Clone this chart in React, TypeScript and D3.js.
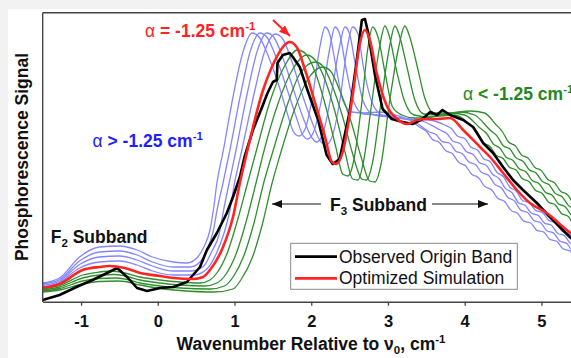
import React, { useEffect, useRef } from "react";
import * as d3 from "d3";

type Pt = [number, number];

// x: wavenumber relative to nu0 (cm-1); y: phosphorescence signal (arb. units)
const X_TICKS = [-1, 0, 1, 2, 3, 4, 5];

const OBSERVED: Pt[] = [
  [-1.5, 2], [-1.28, 7], [-1.06, 15], [-0.85, 22], [-0.66, 29], [-0.53, 34], [-0.4, 25], [-0.27, 14],
  [-0.14, 11], [0.03, 14], [0.2, 15], [0.38, 20], [0.55, 35], [0.64, 52], [0.77, 69], [0.9, 89],
  [0.98, 105], [1.07, 125], [1.13, 145], [1.24, 172], [1.36, 195], [1.43, 209], [1.5, 220], [1.55, 222],
  [1.56, 239], [1.63, 247], [1.72, 249], [1.76, 245], [1.85, 235], [1.95, 212], [2.09, 182], [2.2, 147],
  [2.28, 138], [2.37, 143], [2.5, 190], [2.59, 240], [2.66, 282], [2.7, 283], [2.74, 270], [2.83, 227],
  [2.93, 193], [3.05, 183], [3.19, 180], [3.32, 178], [3.45, 183], [3.55, 190], [3.64, 187], [3.71, 192],
  [3.81, 187], [3.98, 182], [4.11, 175], [4.24, 159], [4.37, 149], [4.5, 135], [4.63, 122], [4.76, 112],
  [4.94, 99], [5.11, 85], [5.37, 65], [5.5, 56],
];

const OPTIMIZED: Pt[] = [
  [-1.5, 14], [-1.28, 18], [-0.98, 32], [-0.76, 35], [-0.63, 36], [-0.43, 34], [-0.23, 29], [0.03, 26],
  [0.2, 24], [0.46, 23], [0.59, 25], [0.68, 32], [0.85, 55], [0.98, 85], [1.07, 119], [1.16, 149],
  [1.36, 209], [1.53, 242], [1.63, 255], [1.72, 260], [1.81, 255], [1.92, 232], [2.05, 199], [2.18, 165],
  [2.27, 140], [2.33, 138], [2.41, 150], [2.54, 207], [2.63, 257], [2.7, 272], [2.76, 263], [2.85, 230],
  [2.98, 197], [3.12, 183], [3.25, 178], [3.38, 182], [3.51, 183], [3.64, 183], [3.81, 184], [3.98, 172],
  [4.2, 155], [4.33, 145], [4.5, 129], [4.68, 112], [4.85, 99], [5.07, 89], [5.33, 72], [5.5, 62],
];

// simulations with alpha > -1.25 cm-1
const SIM_ABOVE_1: Pt[] = [
  [-1.5, 15], [-1.28, 19.5], [-1.02, 34], [-0.76, 40], [-0.5, 41], [-0.27, 37], [-0.07, 31], [0.2, 27],
  [0.47, 27], [0.64, 33], [0.76, 48], [0.86, 68], [0.94, 92], [1.0, 119], [1.09, 150], [1.26, 210],
  [1.39, 250], [1.53, 268], [1.62, 264], [1.75, 240], [1.88, 208], [2.01, 180], [2.11, 162], [2.19, 157],
  [2.27, 165], [2.37, 200], [2.46, 250], [2.54, 275], [2.61, 268], [2.68, 235], [2.79, 200], [2.92, 187],
  [3.09, 184], [3.28, 183], [3.54, 182], [3.74, 177], [3.83, 173.3], [3.91, 165.7], [4.0, 163.5],
  [4.08, 154.9], [4.17, 151.7], [4.25, 143.1], [4.33, 140.5], [4.42, 129.7], [4.5, 125.7], [4.59, 114.8],
  [4.67, 110.9], [4.76, 101.2], [4.84, 99.5], [4.93, 91.3], [5.01, 89.7], [5.1, 81.4], [5.18, 79.5],
  [5.27, 70.7], [5.35, 68.4], [5.44, 60.5], [5.5, 59],
];
const SIM_ABOVE_2: Pt[] = [
  [-1.5, 16.5], [-1.28, 21], [-1.02, 37.5], [-0.76, 45], [-0.5, 46], [-0.27, 42], [-0.07, 36], [0.2, 31],
  [0.44, 31], [0.6, 36], [0.7, 50], [0.8, 68], [0.86, 93], [0.93, 119], [1.02, 152], [1.17, 210],
  [1.3, 252], [1.42, 269], [1.51, 265], [1.64, 242], [1.77, 212], [1.9, 183], [2.01, 164], [2.07, 160],
  [2.15, 168], [2.25, 203], [2.36, 252], [2.44, 275], [2.5, 268], [2.58, 235], [2.68, 200], [2.82, 187],
  [3.02, 185], [3.28, 183], [3.48, 180], [3.68, 172], [3.77, 168.3], [3.85, 160.7], [3.94, 158.5],
  [4.02, 150.4], [4.11, 147.6], [4.19, 139.5], [4.28, 136.7], [4.36, 128], [4.45, 123.3], [4.53, 113.6],
  [4.62, 109], [4.7, 99.2], [4.79, 96.4], [4.87, 88.8], [4.96, 86.6], [5.04, 78.9], [5.13, 76.7],
  [5.21, 68.8], [5.3, 66.4], [5.38, 58.5], [5.47, 57], [5.5, 55],
];
const SIM_ABOVE_3: Pt[] = [
  [-1.5, 18], [-1.28, 22.5], [-1.02, 41], [-0.76, 50], [-0.5, 51], [-0.27, 47], [-0.07, 40], [0.2, 35],
  [0.42, 35], [0.55, 40], [0.64, 52], [0.72, 70], [0.78, 95], [0.85, 119], [0.94, 152], [1.08, 208],
  [1.21, 252], [1.33, 269], [1.42, 265], [1.55, 243], [1.68, 214], [1.8, 186], [1.89, 167], [1.95, 163],
  [2.03, 170], [2.14, 205], [2.24, 253], [2.31, 275], [2.37, 268], [2.45, 235], [2.55, 201], [2.68, 188],
  [2.89, 187], [3.15, 184], [3.35, 180], [3.54, 170], [3.63, 167.2], [3.71, 160.3], [3.8, 159],
  [3.88, 151.1], [3.97, 148.3], [4.05, 140.3], [4.14, 137.5], [4.22, 129.5], [4.31, 126.8], [4.39, 117.9],
  [4.48, 114], [4.56, 104.8], [4.65, 100.9], [4.73, 91.9], [4.82, 89.5], [4.9, 81.6], [4.99, 79.2],
  [5.07, 71.3], [5.16, 68.9], [5.24, 61], [5.33, 58.5], [5.41, 51.2], [5.5, 50.5],
];
const SIM_ABOVE_4: Pt[] = [
  [-1.5, 19], [-1.28, 24], [-1.02, 45], [-0.76, 55], [-0.5, 56], [-0.27, 52], [-0.07, 45], [0.2, 40],
  [0.38, 39], [0.52, 45], [0.6, 55], [0.68, 72], [0.73, 95], [0.77, 119], [0.85, 150], [0.98, 205],
  [1.11, 250], [1.23, 269], [1.32, 265], [1.45, 244], [1.58, 216], [1.69, 188], [1.77, 170], [1.84, 166],
  [1.92, 173], [2.02, 207], [2.11, 254], [2.18, 275], [2.24, 268], [2.32, 236], [2.41, 202], [2.53, 190],
  [2.7, 189], [2.89, 190], [3.09, 187], [3.28, 182], [3.41, 175], [3.5, 170.7], [3.58, 162.5],
  [3.67, 159.6], [3.75, 151.4], [3.84, 148.4], [3.92, 139.7], [4.01, 136.3], [4.09, 127.7], [4.18, 124.3],
  [4.26, 115.6], [4.35, 112.3], [4.43, 103.7], [4.52, 100.5], [4.6, 91.9], [4.69, 88.6], [4.77, 80.8],
  [4.86, 79], [4.94, 71.7], [5.03, 69.9], [5.11, 62.6], [5.2, 60.7], [5.28, 53.2], [5.37, 51.1],
  [5.45, 44.6], [5.5, 44],
];

// simulations with alpha < -1.25 cm-1
const SIM_BELOW_1: Pt[] = [
  [-1.5, 13], [-1.28, 16.5], [-0.98, 27], [-0.76, 30], [-0.6, 31], [-0.43, 29], [-0.23, 25], [0.03, 22],
  [0.29, 20], [0.55, 19], [0.68, 22], [0.78, 30], [0.91, 50], [1.04, 82], [1.17, 119], [1.28, 150],
  [1.46, 200], [1.66, 237], [1.82, 252], [1.93, 248], [2.06, 228], [2.19, 195], [2.32, 155], [2.41, 128],
  [2.48, 126], [2.55, 140], [2.66, 200], [2.74, 255], [2.8, 275], [2.87, 265], [2.96, 230], [3.06, 195],
  [3.18, 187], [3.35, 184], [3.55, 185], [3.87, 187], [4.07, 177], [4.16, 170], [4.24, 159.4],
  [4.33, 155.5], [4.41, 146.9], [4.5, 143.5], [4.58, 135], [4.67, 131.9], [4.75, 123.4], [4.84, 120.3],
  [4.92, 111.8], [5.01, 108.6], [5.09, 100.1], [5.18, 97], [5.26, 88.6], [5.35, 85.5], [5.43, 76.3],
  [5.5, 73.5],
];
const SIM_BELOW_2: Pt[] = [
  [-1.5, 12], [-1.28, 15], [-0.98, 24], [-0.76, 27], [-0.57, 27.5], [-0.43, 26], [-0.23, 22], [0.03, 19],
  [0.29, 17], [0.61, 16], [0.77, 19], [0.89, 28], [1.02, 48], [1.15, 80], [1.28, 119], [1.38, 150],
  [1.56, 197], [1.76, 233], [1.94, 247], [2.05, 242], [2.18, 222], [2.31, 190], [2.44, 150], [2.54, 123],
  [2.61, 122], [2.68, 140], [2.79, 200], [2.89, 255], [2.96, 276], [3.02, 265], [3.11, 232], [3.22, 200],
  [3.34, 187], [3.55, 185], [3.81, 189], [4.0, 187], [4.2, 174], [4.29, 168], [4.37, 158.3],
  [4.46, 153.8], [4.54, 144.8], [4.63, 141.6], [4.71, 133.2], [4.8, 130], [4.88, 121.5], [4.97, 118.3],
  [5.05, 109.8], [5.14, 106.7], [5.22, 98.3], [5.31, 95.2], [5.39, 86.7], [5.48, 82.2], [5.5, 80],
];
const SIM_BELOW_3: Pt[] = [
  [-1.5, 11], [-1.28, 13.5], [-0.98, 21], [-0.76, 23.5], [-0.55, 24], [-0.43, 23], [-0.23, 19], [0.03, 16],
  [0.29, 14], [0.68, 13], [0.87, 16], [0.99, 26], [1.12, 46], [1.25, 78], [1.38, 119], [1.49, 148],
  [1.67, 193], [1.85, 228], [2.05, 240], [2.15, 236], [2.28, 215], [2.41, 185], [2.54, 148], [2.66, 123],
  [2.72, 122], [2.8, 140], [2.91, 200], [3.02, 255], [3.09, 276], [3.15, 266], [3.25, 234], [3.35, 202],
  [3.47, 188], [3.68, 187], [3.94, 190], [4.13, 187], [4.33, 172], [4.42, 166.1], [4.5, 156.5],
  [4.59, 153], [4.67, 144.1], [4.76, 140.8], [4.84, 132.3], [4.93, 129.1], [5.01, 120.6], [5.1, 117.3],
  [5.18, 108.6], [5.27, 105.3], [5.35, 96.6], [5.44, 92.5], [5.5, 87],
];
const SIM_BELOW_4: Pt[] = [
  [-1.5, 10], [-1.28, 12], [-0.98, 18], [-0.76, 20.5], [-0.52, 21], [-0.43, 20.5], [-0.23, 17], [0.03, 13.5],
  [0.29, 11.5], [0.74, 10], [0.98, 13], [1.09, 23], [1.23, 44], [1.36, 77], [1.49, 119], [1.59, 146],
  [1.77, 190], [1.95, 222], [2.15, 235], [2.25, 231], [2.38, 210], [2.52, 180], [2.65, 145], [2.76, 121],
  [2.83, 120], [2.91, 138], [3.02, 200], [3.14, 255], [3.22, 276], [3.28, 266], [3.38, 236], [3.48, 204],
  [3.6, 189], [3.81, 189], [4.07, 191], [4.26, 189], [4.4, 178], [4.49, 170.5], [4.57, 160],
  [4.66, 156.1], [4.74, 147.1], [4.83, 143.6], [4.91, 134.8], [5.0, 131.4], [5.08, 122.7], [5.17, 119.3],
  [5.25, 110.7], [5.34, 107.3], [5.42, 98.2], [5.5, 94.5],
];

const SIMS_ABOVE = [SIM_ABOVE_1, SIM_ABOVE_2, SIM_ABOVE_3, SIM_ABOVE_4];
const SIMS_BELOW = [SIM_BELOW_1, SIM_BELOW_2, SIM_BELOW_3, SIM_BELOW_4];

const LEGEND_LABELS = ["Observed Origin Band", "Optimized Simulation"];

const W = 571;
const H = 358;
const FONT = "Arial, 'Liberation Sans', Helvetica, sans-serif";

const x = d3.scaleLinear().domain([-1.5, 5.5]).range([42.7, 579.8]);
const y = d3.scaleLinear().domain([0, 289]).range([302, 13]);

const smooth = d3
  .line<Pt>()
  .x((d) => x(d[0]))
  .y((d) => y(d[1]))
  .curve(d3.curveMonotoneX);
const jagged = d3
  .line<Pt>()
  .x((d) => x(d[0]))
  .y((d) => y(d[1]));

const BLUE_LINE = "#8585ff";
const GREEN_LINE = "#2f8f2f";
const RED = "#ff2424";

export default function App() {
  const axisRef = useRef<SVGGElement>(null);

  useEffect(() => {
    if (!axisRef.current) return;
    const g = d3.select(axisRef.current);
    g.call(
      d3
        .axisBottom(x)
        .tickValues(X_TICKS)
        .tickSize(4)
        .tickSizeOuter(0)
        .tickPadding(9.5)
        .tickFormat((d) => String(d))
    );
    g.select(".domain").attr("stroke", "#444").attr("stroke-width", 1.4);
    g.selectAll(".tick line").attr("stroke", "#444").attr("stroke-width", 1.3);
    g.selectAll(".tick text")
      .attr("fill", "#111")
      .attr("font-size", 16.5)
      .attr("font-weight", "bold")
      .attr("font-family", FONT);
  }, []);

  return (
    <svg
      width={W}
      height={H}
      style={{ position: "absolute", left: 0, top: 0, display: "block" }}
      fontFamily={FONT}
    >
      <defs>
        <marker id="headBlack" viewBox="0 0 10 8" refX="10" refY="4" markerWidth="10" markerHeight="8" markerUnits="userSpaceOnUse" orient="auto">
          <path d="M0,0 L10,4 L0,8 Z" fill="#111" />
        </marker>
        <marker id="headRed" viewBox="0 0 10 8" refX="10" refY="4" markerWidth="11" markerHeight="9" markerUnits="userSpaceOnUse" orient="auto">
          <path d="M0,0 L10,4 L0,8 Z" fill={RED} />
        </marker>
      </defs>
      <rect x={0} y={0} width={W} height={H} fill="#f2f2f2" />
      <rect x={8} y={9} width={W} height={H} fill="#ffffff" />

      {SIMS_ABOVE.map((s, i) => (
        <path key={"a" + i} d={smooth(s) || ""} fill="none" stroke={BLUE_LINE} strokeWidth={1.3} />
      ))}
      {SIMS_BELOW.map((s, i) => (
        <path key={"b" + i} d={smooth(s) || ""} fill="none" stroke={GREEN_LINE} strokeWidth={1.3} />
      ))}
      <path d={jagged(OBSERVED) || ""} fill="none" stroke="#000" strokeWidth={2.6} strokeLinejoin="round" />
      <path d={smooth(OPTIMIZED) || ""} fill="none" stroke={RED} strokeWidth={2.6} />

      {/* frame */}
      <line x1={42.7} y1={12.7} x2={W} y2={12.7} stroke="#444" strokeWidth={1.4} />
      <line x1={42.7} y1={12.7} x2={42.7} y2={302} stroke="#444" strokeWidth={1.4} />
      <g ref={axisRef} transform="translate(0,301.7)" />

      {/* annotations */}
      <text x={145} y={37} fill={RED} fontSize={17.5} fontWeight="bold">
        <tspan fontWeight="normal">α</tspan> = -1.25 cm<tspan fontSize={11.5} dy={-7}>-1</tspan>
      </text>
      <line x1={273} y1={20} x2={290} y2={36} stroke={RED} strokeWidth={2} markerEnd="url(#headRed)" />
      <text x={92.5} y={146.5} fill="#1f1fff" fontSize={17.5} fontWeight="bold">
        <tspan fontWeight="normal">α</tspan> &gt; -1.25 cm<tspan fontSize={11.5} dy={-7}>-1</tspan>
      </text>
      <text x={463} y={100} fill="#1e8a1e" fontSize={17.5} fontWeight="bold">
        <tspan fontWeight="normal">α</tspan> &lt; -1.25 cm<tspan fontSize={11.5} dy={-7}>-1</tspan>
      </text>
      <text x={50.7} y={242.5} fill="#111" fontSize={17.5} fontWeight="bold">
        F<tspan fontSize={11.5} dy={4}>2</tspan>
        <tspan dy={-4}> Subband</tspan>
      </text>
      <text x={330} y={211} fill="#111" fontSize={17.5} fontWeight="bold">
        F<tspan fontSize={11.5} dy={4}>3</tspan>
        <tspan dy={-4}> Subband</tspan>
      </text>
      <line x1={321} y1={204} x2={272} y2={204} stroke="#111" strokeWidth={1.2} markerEnd="url(#headBlack)" />
      <line x1={432} y1={204} x2={488} y2={204} stroke="#111" strokeWidth={1.2} markerEnd="url(#headBlack)" />

      {/* legend */}
      <rect x={290.7} y={243.3} width={226.6} height={46} fill="#fff" stroke="#8a8a8a" strokeWidth={1} />
      <line x1={295} y1={256.7} x2={337} y2={256.7} stroke="#000" strokeWidth={2.8} />
      <line x1={295} y1={278.3} x2={337} y2={278.3} stroke={RED} strokeWidth={2.8} />
      <text x={339} y={262.8} fontSize={17.5} fill="#111">{LEGEND_LABELS[0]}</text>
      <text x={339} y={284.4} fontSize={17.5} fill="#111">{LEGEND_LABELS[1]}</text>

      {/* axis titles */}
      <text x={311} y={350} textAnchor="middle" fontSize={17.5} fontWeight="bold" fill="#111">
        Wavenumber Relative to ν<tspan fontSize={11.5} dy={4}>0</tspan>
        <tspan dy={-4}>, cm</tspan>
        <tspan fontSize={11.5} dy={-7}>-1</tspan>
      </text>
      <text
        transform="translate(28.3,157) rotate(-90)"
        textAnchor="middle"
        fontSize={17.5}
        fontWeight="bold"
        fill="#111"
      >
        Phosphorescence Signal
      </text>
    </svg>
  );
}
